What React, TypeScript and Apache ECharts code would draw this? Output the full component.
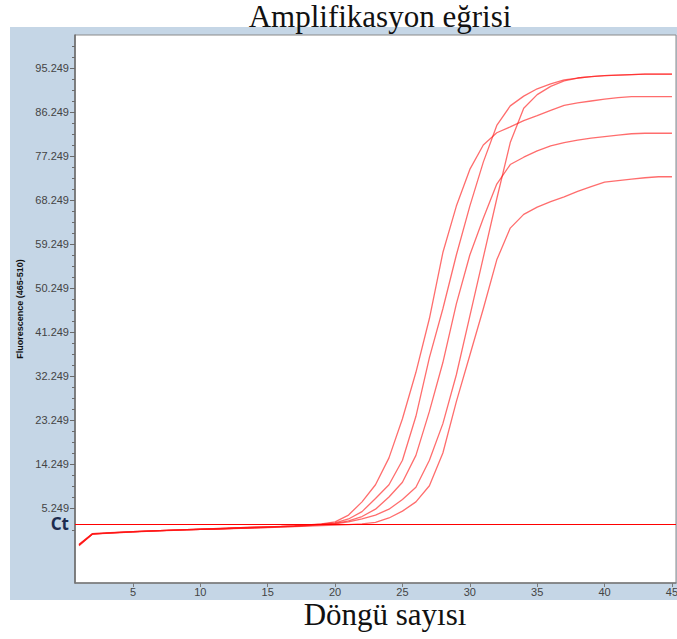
import React, { useEffect, useRef } from 'react';
import * as echarts from 'echarts';

const TITLE = 'Amplifikasyon eğrisi';
const X_TITLE = 'Döngü sayısı';
const Y_TITLE = 'Fluorescence (465-510)';
const CT_LABEL = 'Ct';
const CT_VALUE = 2.0;

const CYCLES = [
  1, 2, 3, 4, 5, 6, 7, 8, 9, 10, 11, 12, 13, 14, 15, 16, 17, 18, 19, 20, 21, 22, 23,
  24, 25, 26, 27, 28, 29, 30, 31, 32, 33, 34, 35, 36, 37, 38, 39, 40, 41, 42, 43, 44, 45,
];

const SAMPLE_A = [
  -2.4, -0.1, 0.1, 0.25, 0.4, 0.5, 0.6, 0.7, 0.8, 0.9, 1.0, 1.1, 1.2, 1.3, 1.4, 1.5, 1.65, 1.8, 2.0, 2.4,
  3.8, 6.5, 10.0, 15.5, 23.5, 33.0, 44.0, 57.5, 67.0, 74.5, 79.5, 82.0, 83.2, 84.5, 85.5, 86.6, 87.6, 88.1,
  88.5, 88.9, 89.2, 89.4, 89.4, 89.4, 89.4,
];
const SAMPLE_B = [
  -2.3, -0.1, 0.1, 0.2, 0.35, 0.5, 0.6, 0.7, 0.8, 0.9, 1.0, 1.1, 1.2, 1.3, 1.4, 1.5, 1.6, 1.75, 1.95, 2.2,
  3.0, 4.5, 7.2, 10.0, 15.0, 24.0, 36.0, 46.0, 57.0, 67.0, 76.0, 83.5, 87.5, 89.5, 91.0, 92.0, 92.8, 93.2,
  93.5, 93.7, 93.8, 93.9, 94.0, 94.0, 94.0,
];
const SAMPLE_C = [
  -2.2, 0.0, 0.15, 0.3, 0.4, 0.5, 0.6, 0.7, 0.8, 0.9, 1.0, 1.05, 1.15, 1.25, 1.35, 1.45, 1.55, 1.7, 1.9, 2.1,
  2.6, 3.5, 5.0, 7.5, 10.5, 16.0, 25.0, 35.0, 47.0, 57.0, 64.5, 71.5, 75.5, 77.0, 78.3, 79.3, 80.0, 80.5,
  80.9, 81.2, 81.5, 81.8, 81.9, 81.9, 81.9,
];
const SAMPLE_D = [
  -2.3, 0.0, 0.1, 0.25, 0.4, 0.5, 0.6, 0.7, 0.75, 0.85, 0.95, 1.05, 1.15, 1.2, 1.3, 1.4, 1.5, 1.65, 1.8, 2.0,
  2.4, 3.0, 3.8, 5.0, 7.0, 9.5, 15.0, 22.5, 32.5, 44.5, 56.5, 68.5, 80.0, 87.0, 89.8, 91.5, 92.6, 93.2,
  93.5, 93.7, 93.8, 93.9, 94.0, 94.0, 94.0,
];
const SAMPLE_E = [
  -2.5, -0.1, 0.05, 0.2, 0.3, 0.45, 0.55, 0.65, 0.75, 0.85, 0.9, 1.0, 1.1, 1.15, 1.25, 1.35, 1.45, 1.55, 1.65, 1.75,
  1.85, 2.0, 2.3, 3.2, 4.6, 6.5, 9.8, 16.5, 27.0, 36.5, 46.0, 56.0, 62.5, 65.3, 66.8, 67.9, 68.9, 70.0,
  71.0, 71.9, 72.2, 72.5, 72.8, 73.0, 73.0,
];

const Y_LABEL_VALUES = [5.249, 14.249, 23.249, 32.249, 41.249, 50.249, 59.249, 68.249, 77.249, 86.249, 95.249];
const Y_MINOR_VALUES = [
  0.749, 7.499, 9.749, 11.999, 16.499, 18.749, 20.999, 25.499, 27.749, 29.999, 34.499, 36.749, 38.999,
  43.499, 45.749, 47.999, 52.499, 54.749, 56.999, 61.499, 63.749, 65.999, 70.499, 72.749, 74.999,
  79.499, 81.749, 83.999, 88.499, 90.749, 92.999, 97.499, 99.749,
];
const X_LABEL_VALUES = [5, 10, 15, 20, 25, 30, 35, 40, 45];

export default function App() {
  const ref = useRef<HTMLDivElement>(null);

  useEffect(() => {
    const chart = echarts.init(ref.current!, null, { renderer: 'svg' });
    const samples = [SAMPLE_A, SAMPLE_B, SAMPLE_C, SAMPLE_D, SAMPLE_E];
    const series: any[] = samples.map((vals, i) => ({
      type: 'line',
      name: 'S' + (i + 1),
      data: CYCLES.map((c, j) => [c, vals[j]]),
      symbol: 'none',
      showSymbol: false,
      smooth: false,
      z: 3,
      lineStyle: { color: 'rgba(255,20,20,0.62)', width: 1.3 },
      markLine:
        i === 0
          ? {
              silent: true,
              symbol: 'none',
              label: { show: false },
              lineStyle: { color: '#ff0000', width: 1, type: 'solid' },
              data: [{ yAxis: CT_VALUE }],
            }
          : undefined,
    }));

    chart.setOption({
      animation: false,
      backgroundColor: '#ffffff',
      graphic: {
        elements: [
          {
            type: 'rect',
            z: -10,
            silent: true,
            shape: { x: 10, y: 27, width: 667, height: 573 },
            style: { fill: '#c5d6e6' },
          },
          {
            type: 'text',
            x: 380,
            y: 16,
            style: {
              text: TITLE,
              font: '31px "Liberation Serif"',
              fill: '#111111',
              align: 'center',
              verticalAlign: 'middle',
              textAlign: 'center',
              textVerticalAlign: 'middle',
            },
          },
          {
            type: 'text',
            x: 385,
            y: 614,
            style: {
              text: X_TITLE,
              font: '31px "Liberation Serif"',
              fill: '#111111',
              align: 'center',
              verticalAlign: 'middle',
              textAlign: 'center',
              textVerticalAlign: 'middle',
            },
          },
        ],
      },
      grid: {
        left: 75,
        right: 1,
        top: 35,
        bottom: 56,
        show: true,
        backgroundColor: '#ffffff',
        borderColor: '#8a8a8a',
        borderWidth: 1,
        containLabel: false,
        outerBoundsMode: 'none',
      },
      xAxis: {
        type: 'value',
        min: 0.7,
        max: 45.3,
        axisLine: { show: true, onZero: false, lineStyle: { color: '#7a7a7a', width: 1.5 } },
        axisTick: { show: true, customValues: X_LABEL_VALUES, length: 4, lineStyle: { color: '#7a7a7a' } },
        axisLabel: {
          customValues: X_LABEL_VALUES,
          fontSize: 11,
          color: '#444444',
          margin: 3,
          fontFamily: '"Liberation Sans", Arial, sans-serif',
        },
        splitLine: { show: false },
      },
      yAxis: [
        {
          type: 'value',
          min: -10.1,
          max: 102,
          name: Y_TITLE,
          nameLocation: 'middle',
          nameRotate: 90,
          nameGap: 46,
          nameTextStyle: {
            fontSize: 9,
            fontWeight: 'bold',
            color: '#111111',
            fontFamily: '"Liberation Sans", Arial, sans-serif',
          },
          axisLine: { show: true, onZero: false, lineStyle: { color: '#6a6a6a', width: 1.5 } },
          axisTick: { show: true, customValues: Y_LABEL_VALUES, length: 5, lineStyle: { color: '#6a6a6a' } },
          axisLabel: {
            customValues: [CT_VALUE, ...Y_LABEL_VALUES],
            fontSize: 11,
            color: '#444444',
            margin: 6,
            fontFamily: '"Liberation Sans", Arial, sans-serif',
            formatter: (v: number) => (Math.abs(v - CT_VALUE) < 1e-6 ? '{ct|' + CT_LABEL + '}' : v.toFixed(3)),
            rich: {
              ct: {
                fontSize: 17,
                fontWeight: 'bold',
                color: '#1d2b4f',
                fontFamily: '"Noto Sans", sans-serif',
              },
            },
          },
          splitLine: { show: false },
        },
        {
          type: 'value',
          min: -10.1,
          max: 102,
          position: 'left',
          axisLine: { show: false, onZero: false },
          axisTick: { show: true, customValues: Y_MINOR_VALUES, length: 3, lineStyle: { color: '#6a6a6a' } },
          axisLabel: { show: false },
          splitLine: { show: false },
        },
      ],
      series,
    });

    return () => chart.dispose();
  }, []);

  return <div ref={ref} style={{ position: 'fixed', left: 0, top: 0, width: 677, height: 639 }} />;
}
